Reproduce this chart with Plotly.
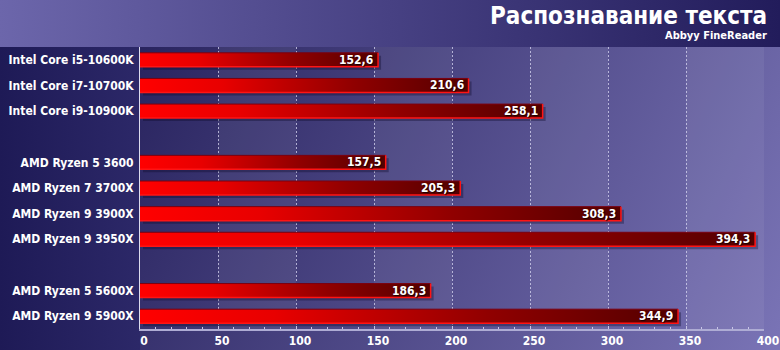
import base64
import plotly.graph_objects as go

# ---------------- data ----------------
categories = [
    "Intel Core i5-10600K", "Intel Core i7-10700K", "Intel Core i9-10900K",
    "AMD Ryzen 5 3600", "AMD Ryzen 7 3700X", "AMD Ryzen 9 3900X", "AMD Ryzen 9 3950X",
    "AMD Ryzen 5 5600X", "AMD Ryzen 9 5900X",
]
values = [152.6, 210.6, 258.1, 157.5, 205.3, 308.3, 394.3, 186.3, 344.9]
# row slots (blank slots 3 and 8 separate the groups)
slots = [0, 1, 2, 4, 5, 6, 7, 9, 10]
x_ticks = [0, 50, 100, 150, 200, 250, 300, 350, 400]
title = "Распознавание текста"
subtitle = "Abbyy FineReader"

# ---------------- layout geometry ----------------
W, H = 780, 350
ML, MR, MT, MB = 140, 16, 47, 21
PW, PH = W - ML - MR, H - MT - MB
XMAX = 400
NSLOT = 11
px_x = XMAX / PW            # data units per pixel (x)
px_y = NSLOT / PH           # slot units per pixel (y)
half = 7 * px_y             # half bar thickness

FONT = "DejaVu Sans Condensed, DejaVu Sans"

# ---------------- background (SVG gradient image) ----------------
svg = f'''<svg xmlns="http://www.w3.org/2000/svg" width="{W}" height="{H}" viewBox="0 0 {W} {H}">
<defs>
<linearGradient id="top" x1="0" y1="0" x2="1" y2="0">
<stop offset="0" stop-color="#6c66ab"/><stop offset="1" stop-color="#221c5b"/></linearGradient>
<linearGradient id="left" x1="0" y1="0" x2="1" y2="0">
<stop offset="0" stop-color="#1e1a56"/><stop offset="1" stop-color="#2c2868"/></linearGradient>
<linearGradient id="plot" gradientUnits="userSpaceOnUse" x1="{ML}" y1="{MT}" x2="{W}" y2="{H}">
<stop offset="0" stop-color="#29245f"/><stop offset="1" stop-color="#7a74b6"/></linearGradient>
</defs>
<rect x="0" y="0" width="{W}" height="{MT}" fill="url(#top)"/>
<rect x="0" y="{MT}" width="{ML}" height="{H-MT}" fill="url(#left)"/>
<rect x="{ML}" y="{MT}" width="{W-ML}" height="{H-MT}" fill="url(#plot)"/>
</svg>'''
bg_uri = "data:image/svg+xml;base64," + base64.b64encode(svg.encode()).decode()

fig = go.Figure()

bar_scale = [[0, "#ff0000"], [0.25, "#e80000"], [0.65, "#900000"], [1, "#520000"]]

for v, s in zip(values, slots):
    y0, y1 = s - half, s + half
    # shadow
    dx, dy = 3 * px_x, 3 * px_y
    fig.add_trace(go.Scatter(
        x=[dx, v + dx, v + dx, dx, dx], y=[y0 + dy, y0 + dy, y1 + dy, y1 + dy, y0 + dy],
        fill="toself", fillcolor="rgba(12,8,40,0.35)", mode="lines",
        line=dict(width=0), hoverinfo="skip", showlegend=False))
    # bar body with gradient
    fig.add_trace(go.Scatter(
        x=[0, v, v, 0, 0], y=[y0, y0, y1, y1, y0],
        fill="toself", fillgradient=dict(type="horizontal", colorscale=bar_scale),
        mode="lines", line=dict(width=0), hoverinfo="skip", showlegend=False))
    # top edge (dark)
    fig.add_trace(go.Scatter(
        x=[0, v], y=[y0, y0], mode="lines", line=dict(color="#7a0010", width=1),
        hoverinfo="skip", showlegend=False))
    # bottom + right edge (bright)
    fig.add_trace(go.Scatter(
        x=[0, v, v], y=[y1, y1, y0], mode="lines", line=dict(color="#ff1414", width=1.5),
        hoverinfo="skip", showlegend=False))
    fig.add_annotation(
        x=v, y=s, xref="x", yref="y", text=f"{v:.1f}".replace(".", ","),
        showarrow=False, xanchor="right", yanchor="middle", xshift=-3, yshift=0,
        font=dict(family=FONT, size=12, color="white", weight="bold",
                  shadow="1px 1px 1px #1a0000"))

# lighter alternating column bands
for a in range(50, XMAX, 100):
    fig.add_shape(type="rect", xref="x", yref="paper", x0=a, x1=a + 50, y0=0, y1=1,
                  fillcolor="rgba(255,255,255,0.06)", line=dict(width=0), layer="below")

fig.add_layout_image(dict(
    source=bg_uri, xref="paper", yref="paper",
    x=-ML / PW, y=1 + MT / PH, sizex=W / PW, sizey=H / PH,
    xanchor="left", yanchor="top", sizing="stretch", layer="below"))

fig.add_annotation(xref="paper", yref="paper", x=1, y=1, xanchor="right", yanchor="middle",
                   xshift=5, yshift=MT - 16, text=title, showarrow=False,
                   font=dict(family=FONT, size=24, color="white", weight="bold"))
fig.add_annotation(xref="paper", yref="paper", x=1, y=1, xanchor="right", yanchor="middle",
                   xshift=5, yshift=MT - 35, text=subtitle, showarrow=False,
                   font=dict(family=FONT, size=11, color="white", weight="bold"))

fig.update_xaxes(
    range=[0, XMAX], tickvals=x_ticks, ticktext=[str(t) for t in x_ticks],
    showgrid=True, gridcolor="rgba(215,213,240,0.75)", griddash="2px,2px", gridwidth=1,
    showline=True, linecolor="#aeacd4", linewidth=2, zeroline=False,
    ticks="inside", ticklen=3, tickcolor="#c8c6e6", tickwidth=1,
    minor=dict(dtick=10, tick0=0, ticks="inside", ticklen=2, tickcolor="#c8c6e6", showgrid=False),
    ticklabelshift=4, automargin=False,
    tickfont=dict(family=FONT, size=12, color="white", weight="bold"), fixedrange=True)
fig.update_yaxes(
    range=[NSLOT - 0.5, -0.5], tickvals=slots, ticktext=categories,
    showgrid=False, zeroline=False, showline=True, linecolor="#dcdcee", linewidth=1,
    ticks="", ticklabelstandoff=3, automargin=False,
    tickfont=dict(family=FONT, size=12, color="white", weight="bold"), fixedrange=True)

fig.update_layout(
    width=W, height=H, margin=dict(l=ML, r=MR, t=MT, b=MB, autoexpand=False),
    paper_bgcolor="#2a2466", plot_bgcolor="rgba(0,0,0,0)",
    showlegend=False, hovermode=False)

fig.write_html("out.html", config={"displayModeBar": False})
